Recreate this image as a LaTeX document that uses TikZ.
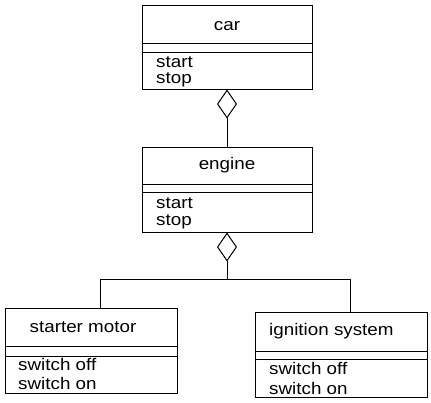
\documentclass[tikz,border=0pt]{standalone}
\usepackage{fontspec}
\setmainfont{Liberation Sans}[FakeStretch=1.12]
\usetikzlibrary{arrows.meta}
\begin{document}
\begin{tikzpicture}[x=1pt,y=-1pt,
  classbox/.style={draw, line width=1pt, rectangle, inner sep=0pt},
  lbl/.style={inner sep=0pt, font=\fontsize{16.8}{19}\selectfont},
  member/.style={lbl, anchor=west},
  sepline/.style={line width=1pt},
  link/.style={line width=1pt},
  agg/.style={link, -{Diamond[open, length=29pt, width=20pt, line width=1pt]}}
]
\useasboundingbox (0,0) rectangle (431,402);
% car
\node[classbox, minimum width=170pt, minimum height=84pt] (car) at (227,47) {};
\draw[sepline] (car.west |- 0,43) -- (car.east |- 0,43) (car.west |- 0,52) -- (car.east |- 0,52);
\node[lbl] (carname) at (227,26) {car};
\node[member] (carstart) at (156,62) {start};
\node[member] (carstop) at (156,80) {stop};
% engine
\node[classbox, minimum width=170pt, minimum height=85pt] (engine) at (227,189.5) {};
\draw[sepline] (engine.west |- 0,184) -- (engine.east |- 0,184) (engine.west |- 0,192) -- (engine.east |- 0,192);
\node[lbl] (enginename) at (227,165) {engine};
\node[member] (enginestart) at (156,203) {start};
\node[member] (enginestop) at (156,222) {stop};
% starter motor
\node[classbox, minimum width=172pt, minimum height=85pt] (starter) at (91,350.5) {};
\draw[sepline] (starter.west |- 0,346) -- (starter.east |- 0,346) (starter.west |- 0,356) -- (starter.east |- 0,356);
\node[lbl] (startername) at (83,327) {starter motor};
\node[member] (starteroff) at (18,364) {switch off};
\node[member] (starteron) at (18,383) {switch on};
% ignition system
\node[classbox, minimum width=172pt, minimum height=85pt] (ignition) at (341,354.5) {};
\draw[sepline] (ignition.west |- 0,351) -- (ignition.east |- 0,351) (ignition.west |- 0,359) -- (ignition.east |- 0,359);
\node[lbl, anchor=west] (ignitionname) at (269,331) {ignition system};
\node[member] (ignitionoff) at (269,368) {switch off};
\node[member] (ignitionon) at (269,388) {switch on};
% connectors
\draw[agg] (engine.north) -- (car.south);
\coordinate (junction) at (227,279);
\coordinate (starterport) at ([xshift=9pt]starter.north);
\coordinate (ignitionport) at ([xshift=9pt]ignition.north);
\draw[agg] (starterport) |- (junction) -- (engine.south);
\draw[link] (ignitionport) |- (junction);
\end{tikzpicture}
\end{document}
